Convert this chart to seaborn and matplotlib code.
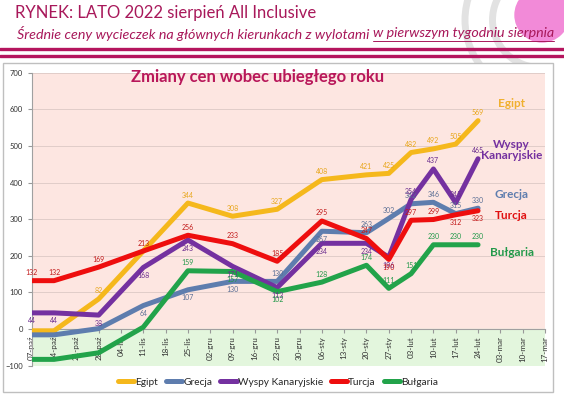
#zmiany cen wycieczek lato 2022 - wykres liniowy
import numpy as np
import pandas as pd
import seaborn as sns
import matplotlib.pyplot as plt
from matplotlib.patches import Rectangle, Ellipse, Arc
from matplotlib.lines import Line2D

tygodnie = ['07-paź', '14-paź', '21-paź', '28-paź', '04-lis', '11-lis', '18-lis', '25-lis',
            '02-gru', '09-gru', '16-gru', '23-gru', '30-gru', '06-sty', '13-sty', '20-sty',
            '27-sty', '03-lut', '10-lut', '17-lut', '24-lut', '03-mar', '10-mar', '17-mar']
# tygodnie z pomiarem
pomiary = ['07-paź', '14-paź', '28-paź', '11-lis', '25-lis', '09-gru', '23-gru', '06-sty',
           '20-sty', '27-sty', '03-lut', '10-lut', '17-lut', '24-lut']

egipt = [-5, -5, 82, None, 344, 308, 327, 408, 421, 425, 482, 492, 505, 569]
grecja = [-16, -16, 1, 64, 107, 130, 130, 267, 263, 302, 342, 346, 315, 330]
wyspy = [44, 44, 38, 168, 243, 171, 113, 234, 234, 196, 354, 437, 345, 465]
turcja = [132, 132, 169, 213, 256, 233, 185, 295, 247, 190, 297, 299, 312, 323]
bulgaria = [-83, -83, -65, 5, 159, 157, 102, 128, 174, 111, 151, 230, 230, 230]

kierunki = ['Egipt', 'Grecja', 'Wyspy Kanaryjskie', 'Turcja', 'Bułgaria']
serie = [egipt, grecja, wyspy, turcja, bulgaria]
kolory = ['#F5B81C', '#5E7DAE', '#7431A0', '#EE0E0E', '#22A34A']
kolory_etykiet = ['#E8A61A', '#5B6F95', '#6A2C8E', '#C21A1A', '#23994A']
# etykiety nad (1) / pod (-1) linia, plus wyjatki
kierunek_etyk = [1, -1, -1, 1, 1]
wyjatki = [[], [6, 8, 9, 10, 11, 12, 13], [10, 11, 12, 13], [9, 12, 13], [5, 6]]

rows = []
for nazwa, wart in zip(kierunki, serie):
    for t, v in zip(pomiary, wart):
        if v is not None:
            rows.append({'kierunek': nazwa, 'nr': tygodnie.index(t), 'zmiana': v})
df = pd.DataFrame(rows)

sns.set_style('white')
plt.rcParams['font.family'] = ['Lato', 'DejaVu Sans']
MAG = '#A8185A'

fig = plt.figure(figsize=(5.64, 3.99), dpi=100)
r = fig.canvas.get_renderer()

# logo (uproszczone)
for rr in (150, 95):
    fig.add_artist(Arc((540 / 564, 1 - 20 / 399), rr / 564, rr / 399, theta1=90, theta2=270,
                       color='#E2E2E2', lw=5, zorder=0))
fig.add_artist(Ellipse((542 / 564, 1 - 15 / 399), 54 / 564, 54 / 399, color='#F28AD8', zorder=1))

# naglowek
fig.text(0.027, 0.967, 'RYNEK: LATO 2022 sierpień All Inclusive', fontsize=12, color=MAG,
         ha='left', va='center')
t1 = fig.text(0.030, 0.917, 'Średnie ceny wycieczek na głównych kierunkach z wylotami ', fontsize=10.3,
              color=MAG, style='italic', ha='left', va='center')
bb = t1.get_window_extent(r)
x2 = bb.x1 / fig.bbox.width
t2 = fig.text(x2, 0.917, 'w pierwszym tygodniu sierpnia', fontsize=10.3, color=MAG,
              style='italic', ha='left', va='center')
bb2 = t2.get_window_extent(r)
fig.add_artist(Line2D([x2, bb2.x1 / fig.bbox.width], [0.898, 0.898], color=MAG, lw=0.7))
fig.add_artist(Line2D([0, 1], [1 - 48.5 / 399, 1 - 48.5 / 399], color='#B5155E', lw=2.4))
fig.add_artist(Line2D([0, 1], [1 - 55.5 / 399, 1 - 55.5 / 399], color='#B5155E', lw=2.4))

# ramka wykresu
fig.add_artist(Rectangle((3 / 564, 7 / 399), 550 / 564, 329 / 399, transform=fig.transFigure,
                         facecolor='white', edgecolor='#BFBFBF', lw=1, zorder=2))

ax = fig.add_axes([31.7 / 564, 1 - 365.6 / 399, (545 - 31.7) / 564, (365.6 - 72.7) / 399])
ax.set_zorder(3)
ax.set_facecolor('white')
ax.axhspan(0, 700, color='#FDE6E1', zorder=0)
ax.axhspan(-100, 0, color='#E3F6DD', zorder=0)
for yy in range(100, 701, 100):
    ax.axhline(yy, color='#DCC9C5', lw=0.6, zorder=1)

sns.lineplot(data=df, x='nr', y='zmiana', hue='kierunek', hue_order=kierunki, palette=kolory,
             lw=3.6, sort=True, legend=False, ax=ax, zorder=3)

# etykiety danych
for i, (nazwa, wart) in enumerate(zip(kierunki, serie)):
    for j, (t, v) in enumerate(zip(pomiary, wart)):
        if v is None or v < 10:
            continue
        d = kierunek_etyk[i] * (-1 if j in wyjatki[i] else 1)
        ax.annotate(str(v), (tygodnie.index(t), v), xytext=(0, 8 * d), textcoords='offset pixels',
                    ha='center', va='center', fontsize=5, color=kolory_etykiet[i], zorder=5)

# nazwy kierunkow po prawej
ax.text(21.5, 617, 'Egipt', color='#F0B030', fontsize=8.5, fontweight='bold', ha='center', va='center')
ax.text(21.5, 490, 'Wyspy\nKanaryjskie', color='#7431A0', fontsize=8.5, fontweight='bold',
        ha='center', va='center', linespacing=1.0)
ax.text(21.5, 366, 'Grecja', color='#5E7DAE', fontsize=8.5, fontweight='bold', ha='center', va='center')
ax.text(21.5, 309, 'Turcja', color='#E01010', fontsize=8.5, fontweight='bold', ha='center', va='center')
ax.text(21.5, 210, 'Bułgaria', color='#23994A', fontsize=8.5, fontweight='bold', ha='center', va='center')

ax.text(0.44, 0.985, 'Zmiany cen wobec ubiegłego roku', color='#B8175A', fontsize=12,
        fontweight='bold', ha='center', va='center', transform=ax.transAxes)

ax.set_xlim(0, 23)
ax.set_ylim(-100, 700)
ax.set_yticks(range(-100, 701, 100))
ax.set_xticks(range(len(tygodnie)))
ax.set_xticklabels(tygodnie)
ax.tick_params(axis='y', labelsize=5.5, labelcolor='#333333', length=3, color='#999999', left=True)
ax.tick_params(axis='x', labelsize=5.8, labelcolor='#333333', labelrotation=90, length=3,
               color='#999999', bottom=True, pad=2)
ax.spines['bottom'].set_position(('data', 0))
ax.spines['bottom'].set_color('#A0A0A0')
ax.spines['left'].set_color('#A0A0A0')
ax.spines['top'].set_visible(False)
ax.spines['right'].set_visible(False)
ax.set_xlabel('')
ax.set_ylabel('')

# legenda
uchwyty = [Line2D([], [], color=k, lw=3.6) for k in kolory]
leg = fig.legend(uchwyty, kierunki, loc='center', bbox_to_anchor=(0.493, 1 - 382 / 399), ncol=5,
                 frameon=False, fontsize=7.3, handlelength=1.6, columnspacing=0.8, handletextpad=0.1)
leg.set_zorder(4)

plt.savefig('out.png', dpi=100)
